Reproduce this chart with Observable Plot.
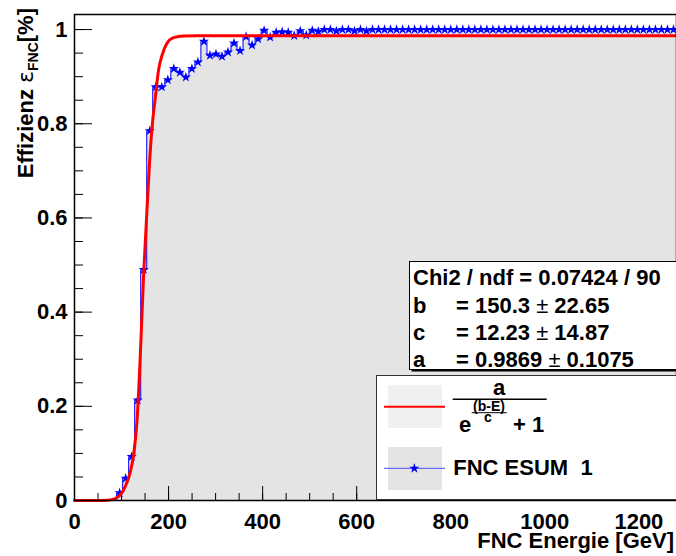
<!DOCTYPE html>
<html><head><meta charset="utf-8">
<script src="https://cdn.jsdelivr.net/npm/d3@7"></script>
<script src="https://cdn.jsdelivr.net/npm/@observablehq/plot@0.6"></script>
<style>
html,body{margin:0;padding:0;background:#fff;}
#chart{position:relative;width:676px;height:556px;}
svg text{white-space:pre;}
</style></head><body><div id="chart"></div>
<script>
// Histogram definition (ROOT TH1: 100 bins, 0..1280 GeV)
const nBins = 100;
const eMin = 0;
const eMax = 1280;

// Efficiency per bin; bins 0-6 are empty
const efficiency = [
  0, 0, 0, 0, 0, 0, 0, 0.016, 0.047, 0.093,
  0.213, 0.49, 0.785, 0.878, 0.878, 0.893, 0.917, 0.909, 0.899, 0.917,
  0.931, 0.975, 0.945, 0.948, 0.943, 0.952, 0.971, 0.955, 0.985, 0.967,
  0.980, 0.998, 0.984, 0.994, 0.995, 0.994, 0.987, 0.997, 0.988, 0.998,
  0.996, 1.0, 1.0, 0.997, 1.0, 1.0, 0.997, 1.0, 0.997, 1.0,
  1.0, 1.0, 1.0, 1.0, 1.0, 1.0, 1.0, 1.0, 1.0, 1.0,
  1.0, 1.0, 1.0, 1.0, 1.0, 1.0, 1.0, 1.0, 1.0, 1.0,
  1.0, 1.0, 1.0, 1.0, 1.0, 1.0, 1.0, 1.0, 1.0, 1.0,
  1.0, 1.0, 1.0, 1.0, 1.0, 1.0, 1.0, 1.0, 1.0, 1.0,
  1.0, 1.0, 1.0, 1.0, 1.0, 1.0, 1.0, 1.0, 1.0, 1.0
];

// Fit curve, points
const fitEnergy = [0, 40, 70, 83, 97.6, 108, 119, 126, 133, 140, 147, 152.7, 159.7, 164.7, 171.8, 178.9, 186, 196.6, 210.7, 232, 260, 1280];
const fitEff    = [0, 0.0001, 0.0006, 0.003, 0.012, 0.03, 0.062, 0.099, 0.17, 0.31, 0.48, 0.59, 0.72, 0.79, 0.855, 0.915, 0.945, 0.971, 0.983, 0.9865, 0.9869, 0.9869];

// Axis ticks
const xTicks = [0, 200, 400, 600, 800, 1000, 1200];
const yTicks = [0, 0.2, 0.4, 0.6, 0.8, 1];
const xMinorStep = 50;
const yMinorStep = 0.05;

// Texts
const xTitle = "FNC Energie [GeV]";
const statsRows = [
  ["Chi2 / ndf = 0.07424 / 90"],
  ["b", "= 150.3 ", "\u00b1", " 22.65"],
  ["c", "= 12.23 ", "\u00b1", " 14.87"],
  ["a", "= 0.9869 ", "\u00b1", " 0.1075"]
];
const histLabel = "FNC ESUM\u00a0 1";

// ---------- build ----------
const W = 676, H = 556, mL = 74, mR = 0, mT = 14, mB = 56;
const plotW = W - mL - mR, plotH = H - mT - mB;
const binW = (eMax - eMin) / nBins;
const hist = efficiency.map((v, i) => ({x: eMin + i * binW, y: v}));
hist.push({x: eMax, y: efficiency[nBins - 1]});
const pts = efficiency.map((v, i) => ({x: eMin + (i + 0.5) * binW, y: v})).filter(d => d.y > 0);
const fit = fitEnergy.map((e, i) => ({x: e, y: fitEff[i]}));
const xMinor = d3.range(0, eMax + 1e-9, xMinorStep);
const yMinor = d3.range(0, 1 + 1e-9, yMinorStep);
const font = "'Liberation Sans', Arial, Helvetica, sans-serif";
const starR = 3.2;

const chart = Plot.plot({
  width: W, height: H,
  marginLeft: mL, marginRight: mR, marginTop: mT, marginBottom: mB,
  x: {domain: [eMin, eMax], label: null},
  y: {domain: [0, 1.032], label: null},
  style: {fontFamily: font, fontSize: "22px", fontWeight: "bold", background: "#fff", color: "#000", overflow: "visible"},
  marks: [
    Plot.areaY(hist, {x: "x", y: "y", curve: "step-after", fill: "#e4e4e4"}),
    Plot.tickY(yMinor, {y: d => d, stroke: "#000", insetRight: plotW - 9}),
    Plot.tickY(yTicks, {y: d => d, stroke: "#000", insetRight: plotW - 18}),
    Plot.tickX(xMinor, {x: d => d, stroke: "#000", insetTop: plotH - 7}),
    Plot.tickX(xTicks, {x: d => d, stroke: "#000", insetTop: plotH - 14}),
    Plot.lineY(hist, {x: "x", y: "y", curve: "step-after", stroke: "#0000ff", strokeWidth: 1}),
    Plot.dot(pts, {x: "x", y: "y", symbol: "star", r: starR, fill: "#0000ff", stroke: "none"}),
    Plot.line(fit, {x: "x", y: "y", curve: "monotone-x", stroke: "#ff0000", strokeWidth: 3}),
    Plot.frame({stroke: "#000", strokeWidth: 1.5}),
    Plot.axisX({ticks: xTicks, tickSize: 0, tickPadding: 13, tickFormat: d => String(d), label: null}),
    Plot.axisY({ticks: yTicks, tickSize: 0, tickPadding: 7, tickFormat: d => (d === 0 ? "0" : d === 1 ? "1" : d.toFixed(1)), label: null})
  ]
});
document.getElementById("chart").appendChild(chart);

const svg = d3.select(chart);
const g = svg.append("g").attr("font-family", font).attr("font-weight", "bold").attr("fill", "#000").attr("text-anchor", "start");

// Axis titles
g.append("text").attr("x", 674).attr("y", 548).attr("text-anchor", "end").attr("font-size", 22).text(xTitle);
const yt = g.append("text").attr("transform", "translate(33,8) rotate(-90)").attr("text-anchor", "end").attr("font-size", 22);
yt.append("tspan").text("Effizienz ");
yt.append("tspan").attr("font-weight", "normal").attr("font-family", "'DejaVu Sans', sans-serif").text("\u03b5");
yt.append("tspan").attr("font-size", 14).attr("dy", 5).text("FNC");
yt.append("tspan").attr("dy", -5).text("[%]");

// Stats box
g.append("rect").attr("x", 411.5).attr("y", 263.5).attr("width", 270).attr("height", 108).attr("fill", "#000");
g.append("rect").attr("x", 409.5).attr("y", 261.5).attr("width", 270).attr("height", 108).attr("fill", "#fff").attr("stroke", "#000").attr("stroke-width", 1);
const baselines = [285, 312.5, 340, 367];
statsRows.forEach((row, i) => {
  g.append("text").attr("x", 413).attr("y", baselines[i]).attr("font-size", 22).attr("text-anchor", "start").text(row[0]);
  if (row.length > 1) {
    const t = g.append("text").attr("x", 456).attr("y", baselines[i]).attr("font-size", 22).attr("text-anchor", "start");
    t.append("tspan").text(row[1]);
    t.append("tspan").attr("font-weight", "normal").text(row[2]);
    t.append("tspan").text(row[3]);
  }
});

// Legend
g.append("rect").attr("x", 376.5).attr("y", 375.5).attr("width", 302).attr("height", 124).attr("fill", "#fff").attr("stroke", "#333").attr("stroke-width", 1);
g.append("rect").attr("x", 388).attr("y", 385).attr("width", 54).attr("height", 43).attr("fill", "#f0f0f0");
g.append("line").attr("x1", 384).attr("x2", 445).attr("y1", 406.7).attr("y2", 406.7).attr("stroke", "#ff0000").attr("stroke-width", 2);
g.append("text").attr("x", 499).attr("y", 395).attr("text-anchor", "middle").attr("font-size", 22).text("a");
g.append("line").attr("x1", 452.7).attr("x2", 546.7).attr("y1", 399.3).attr("y2", 399.3).attr("stroke", "#000").attr("stroke-width", 1.5);
g.append("text").attr("x", 489).attr("y", 410.5).attr("text-anchor", "middle").attr("font-size", 14).text("(b-E)");
g.append("line").attr("x1", 471.7).attr("x2", 506.7).attr("y1", 412.7).attr("y2", 412.7).attr("stroke", "#000").attr("stroke-width", 1);
g.append("text").attr("x", 488).attr("y", 422).attr("text-anchor", "middle").attr("font-size", 14).text("c");
g.append("text").attr("x", 459).attr("y", 432).attr("text-anchor", "start").attr("font-size", 22).text("e");
g.append("text").attr("x", 513).attr("y", 432).attr("text-anchor", "start").attr("font-size", 22).text("+ 1");

g.append("rect").attr("x", 388).attr("y", 447).attr("width", 54).attr("height", 43).attr("fill", "#e4e4e4");
g.append("line").attr("x1", 384).attr("x2", 445).attr("y1", 468.3).attr("y2", 468.3).attr("stroke", "#4d4dff").attr("stroke-width", 1);
g.append("path").attr("d", d3.symbol(d3.symbolStar, starR * starR * Math.PI)()).attr("transform", "translate(414.3,468.3)").attr("fill", "#0000ff");
g.append("text").attr("x", 453.3).attr("y", 475).attr("text-anchor", "start").attr("font-size", 22).text(histLabel);
</script>
</body></html>
